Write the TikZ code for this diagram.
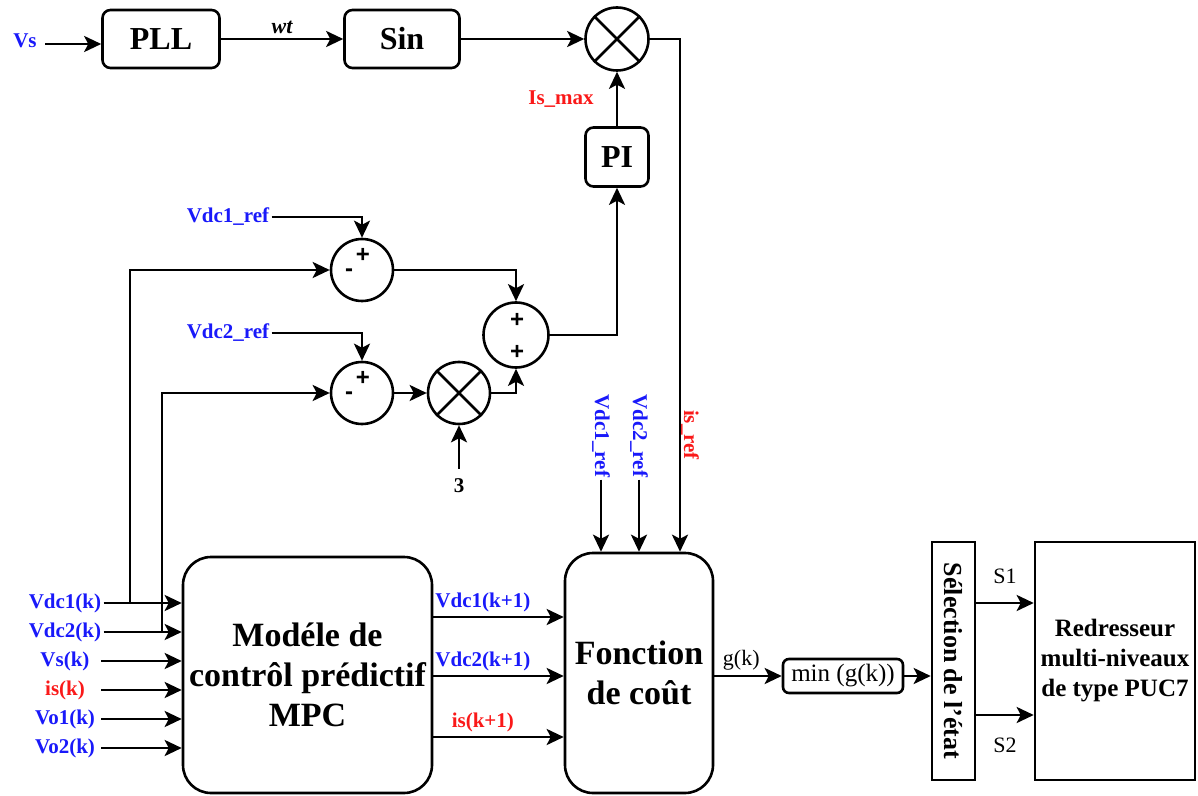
\documentclass[tikz,border=0pt]{standalone}
\usepackage{fontspec}
\setmainfont{Liberation Serif}
\newfontfamily\signfont{Liberation Sans}
\usepackage{tikz}
\usetikzlibrary{arrows.meta,positioning,calc}
\definecolor{ink}{RGB}{0,0,0}
\definecolor{sigb}{RGB}{25,25,250}
\definecolor{sigr}{RGB}{250,25,25}
\tikzset{
  blk/.style={draw=ink,line width=1.3pt,rounded corners=4pt,inner sep=0pt,
    font=\fontsize{16}{18}\selectfont\bfseries,align=center},
  bigblk/.style={blk,rounded corners=14pt,font=\fontsize{17}{20}\selectfont\bfseries},
  sqblk/.style={draw=ink,line width=1.3pt,inner sep=0pt,align=center,
    font=\fontsize{12.5}{15}\selectfont\bfseries},
  sumc/.style={circle,draw=ink,line width=1.3pt,minimum size=31pt,inner sep=0pt},
  sgn/.style={inner sep=0pt,font=\signfont\fontsize{12}{12}\selectfont\bfseries},
  lbl/.style={inner sep=1pt,font=\fontsize{10.5}{12}\selectfont\bfseries},
  thin/.style={inner sep=1pt,font=\fontsize{11}{12}\selectfont},
  blu/.style={lbl,text=sigb},
  rd/.style={lbl,text=sigr},
  arr/.style={-{Stealth[length=8.5pt,width=8pt,inset=2pt]},line width=1.3pt,ink},
  ln/.style={line width=1.3pt,ink},
}

\begin{document}
\begin{tikzpicture}[x=0.5pt,y=-0.5pt]
\useasboundingbox (0,0) rectangle (1198,796);
% reference de courant
\node[blk,minimum width=58.5pt,minimum height=29pt] (pll) at (161,39) {PLL};
\node[blk,minimum width=57.5pt,minimum height=29pt] (sin) at (402,39) {Sin};
\node[sumc,minimum size=31.5pt] (mul1) at (617,39) {};
\node[blk,minimum width=31.5pt,minimum height=29.5pt] (pi) at (617,157) {PI};
\node[blu] (vs) at (25,41) {Vs};
\coordinate (vsin) at (45,44);
\draw[arr] (vsin) -- (pll.west |- vsin);
\draw[arr] (pll) -- node[above=1pt,inner sep=1pt,font=\fontsize{11}{12}\selectfont\bfseries\itshape]{wt} (sin);
\draw[arr] (sin) -- (mul1);
\draw[arr] (pi) -- node[rd,left=10pt]{Is\_max} (mul1);

% regulation des tensions dc
\node[blu] (ref1) at (228,217) {Vdc1\_ref};
\node[blu] (ref2) at (228,333) {Vdc2\_ref};
\node[sumc] (s1) at (362,270) {};
\node[sumc] (s2) at (362,393) {};
\node[sumc] (mul2) at (459,393) {};
\node[sumc,minimum size=32.5pt] (s3) at (516,335) {};
\node[lbl] (k3) at (459,486) {3};
\foreach \s in {s1,s2} {
  \node[sgn] at ($(\s)+(1,-15)$) {+};
  \node[sgn] at ($(\s)+(-13,3)$) {-};
}
\node[sgn] at ($(s3)+(1,-15)$) {+};
\node[sgn] at ($(s3)+(1,17)$) {+};
\foreach \m in {mul1,mul2}
  \draw[ln] (\m.north east) -- (\m.south west) (\m.north west) -- (\m.south east);
\draw[arr] (ref1.east) -| (s1.north);
\draw[arr] (ref2.east) -| (s2.north);
\draw[arr] (s1.east) -| (s3.north);
\draw[arr] (s2) -- (mul2);
\draw[arr] (mul2.east) -| (s3.south);
\draw[arr,shorten <=4pt] (k3) -- (mul2);
\draw[arr] (s3.east) -| (pi.south);

% modele predictif et fonction de cout
\node[bigblk,minimum width=124.5pt,minimum height=118pt] (mpc) at (307.5,675)
  {Modéle de\\contrôl prédictif\\MPC};
\node[bigblk,minimum width=74pt,minimum height=120pt] (fc) at (639,673)
  {Fonction\\de coût};
\foreach \t/\c/\y/\n in {Vdc1(k)/sigb/603/1,Vdc2(k)/sigb/632/2,Vs(k)/sigb/661/3,
    is(k)/sigr/690/4,Vo1(k)/sigb/719/5,Vo2(k)/sigb/748/6}
  \node[lbl,text=\c,minimum width=36pt] (in\n) at (65,\y) {\t};
\foreach \n in {1,...,6}
  \draw[arr] (in\n.east) -- (mpc.west |- in\n);
\coordinate (b1) at (130,603);
\coordinate (b2) at (162,632);
\draw[arr] (b1) |- (s1.west);
\draw[arr] (b2) |- (s2.west);
\foreach \y/\t/\c in {617/Vdc1(k+1)/sigb,676/Vdc2(k+1)/sigb,737/is(k+1)/sigr}
  \draw[arr] (mpc.east |- 0,\y) -- node[lbl,text=\c,above=1pt,pos=0.38]{\t} (fc.west |- 0,\y);
\node[blu,rotate=-90] (r1) at (601,436) {Vdc1\_ref};
\node[blu,rotate=-90] (r2) at (639,436) {Vdc2\_ref};
\node[rd,rotate=-90] (r3) at (690,435) {is\_ref};
\draw[arr] (r1.east) -- (r1.east |- fc.north);
\draw[arr] (r2.east) -- (r2.east |- fc.north);
\draw[arr] (mul1.east) -| (fc.north -| 680,0);

% selection de l'etat
\node[draw=ink,line width=1.3pt,rounded corners=3pt,minimum width=60pt,minimum height=17pt,
  inner sep=0pt,font=\fontsize{12.5}{14}\selectfont] (minb) at (843,676) {min (g(k))};
\node[sqblk,minimum width=21.5pt,minimum height=119pt] (sel) at (953.5,661) {};
\node[rotate=-90,inner sep=0pt,font=\fontsize{13}{14}\selectfont\bfseries] (seltxt) at (sel) {Sélection de l'état};
\node[sqblk,minimum width=80pt,minimum height=119pt] (red) at (1115,661)
  {Redresseur\\multi-niveaux\\de type PUC7};
\draw[arr] (fc.east |- minb) -- node[thin,above=1pt,pos=0.4]{g(k)} (minb.west);
\draw[arr] (minb.east) -- (sel.west |- minb);
\draw[arr] (sel.east |- 0,603) -- node[thin,above=8pt]{S1} (red.west |- 0,603);
\draw[arr] (sel.east |- 0,715) -- node[thin,below=10pt]{S2} (red.west |- 0,715);
\end{tikzpicture}
\end{document}
